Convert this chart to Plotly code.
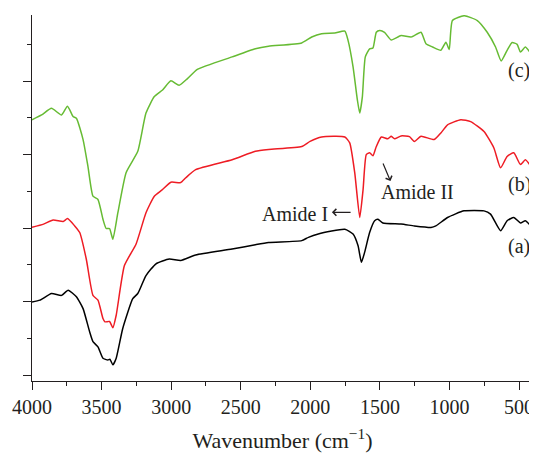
import plotly.graph_objects as go

# (a) black
wn_a = [4000, 3943, 3860, 3788, 3740, 3681, 3633, 3586, 3562, 3526, 3490, 3455, 3440, 3419, 3395,
        3348, 3276, 3240, 3181, 3109, 3014, 2931, 2824, 2562, 2395, 2300, 2062, 2014, 1943, 1752,
        1693, 1657, 1633, 1610, 1574, 1538, 1514, 1479, 1348, 1252, 1133, 1098, 1014, 895, 752,
        705, 633, 586, 538, 490, 455, 407]
y_a = [1.99, 2.04, 2.22, 2.17, 2.31, 2.13, 1.81, 1.18, 0.91, 0.77, 0.46, 0.41, 0.43, 0.28, 0.46,
       1.27, 2.08, 2.22, 2.71, 3.03, 3.16, 3.12, 3.27, 3.43, 3.55, 3.61, 3.66, 3.75, 3.84, 3.97,
       3.84, 3.52, 3.07, 3.34, 3.88, 4.20, 4.24, 4.14, 4.11, 4.06, 4.02, 4.06, 4.29, 4.47, 4.47,
       4.38, 3.93, 4.20, 4.29, 4.14, 4.20, 4.02]

# (b) red
wn_b = [4000, 3917, 3848, 3776, 3745, 3693, 3657, 3610, 3562, 3526, 3490, 3476, 3443, 3419, 3395,
        3336, 3252, 3181, 3121, 3062, 3002, 2931, 2895, 2824, 2562, 2395, 2300, 2062, 2002, 1919,
        1752, 1717, 1681, 1645, 1621, 1598, 1574, 1550, 1526, 1490, 1443, 1419, 1395, 1348, 1288,
        1252, 1205, 1110, 1062, 1014, 919, 848, 752, 681, 633, 586, 538, 490, 455, 407]
y_b = [4.02, 4.11, 4.22, 4.18, 4.26, 4.06, 3.88, 3.16, 2.17, 2.04, 1.54, 1.45, 1.46, 1.29, 1.63,
       2.98, 3.57, 4.42, 4.87, 5.05, 5.25, 5.24, 5.37, 5.59, 5.86, 6.09, 6.14, 6.22, 6.36, 6.48,
       6.48, 6.32, 5.51, 4.29, 5.05, 6.00, 6.05, 5.97, 6.22, 6.48, 6.43, 6.50, 6.43, 6.51, 6.49,
       6.36, 6.50, 6.41, 6.59, 6.81, 6.95, 6.90, 6.63, 6.18, 5.64, 5.95, 6.05, 5.73, 5.86, 5.64]

# (c) green
wn_c = [4000, 3931, 3860, 3788, 3745, 3705, 3681, 3633, 3598, 3562, 3526, 3490, 3467, 3443, 3419,
        3383, 3324, 3240, 3181, 3121, 3062, 3002, 2943, 2883, 2812, 2562, 2395, 2300, 2062, 1990,
        1919, 1824, 1752, 1729, 1693, 1662, 1645, 1626, 1605, 1574, 1550, 1526, 1502, 1467, 1419,
        1348, 1276, 1205, 1169, 1121, 1062, 1026, 1002, 979, 895, 800, 729, 669, 629, 586, 550,
        514, 490, 455, 407]
y_c = [6.95, 7.08, 7.26, 7.08, 7.32, 7.04, 6.99, 6.41, 5.68, 4.87, 4.78, 4.24, 3.99, 3.99, 3.70,
       4.42, 5.51, 6.09, 7.13, 7.58, 7.76, 8.01, 7.89, 8.07, 8.32, 8.66, 8.88, 8.95, 9.04, 9.20,
       9.29, 9.31, 9.36, 9.11, 8.39, 7.49, 7.13, 7.58, 8.66, 8.88, 8.90, 9.33, 9.38, 9.33, 9.12,
       9.24, 9.20, 9.33, 9.02, 8.93, 8.84, 9.06, 8.86, 9.65, 9.78, 9.65, 9.33, 8.93, 8.55, 8.84, 9.05,
       9.00, 8.79, 8.93, 8.70]

series_names = ["(a)", "(b)", "(c)"]
series_colors = ["#000000", "#ee1c24", "#66bb33"]

font_serif = "Liberation Serif"
txt_col = "#231f20"

fig = go.Figure()
for wn, yy, name, col in zip([wn_a, wn_b, wn_c], [y_a, y_b, y_c], series_names, series_colors):
    fig.add_trace(go.Scatter(x=wn, y=yy, mode="lines", name=name,
                             line=dict(color=col, width=1.5, shape="spline", smoothing=0.5)))

lab_font = dict(size=20, color=txt_col, family=font_serif)
fig.add_annotation(x=500, y=3.5, text="(a)", showarrow=False, xanchor="center", font=lab_font)
fig.add_annotation(x=500, y=5.2, text="(b)", showarrow=False, xanchor="center", font=lab_font)
fig.add_annotation(x=500, y=8.3, text="(c)", showarrow=False, xanchor="center", font=lab_font)

# Amide I label and its arrow
fig.add_annotation(x=1862, y=4.38, text="Amide I", showarrow=False, xanchor="right",
                   font=lab_font)
fig.add_annotation(x=1845, y=4.43, ax=1700, ay=4.43, axref="x", ayref="y", text="",
                   showarrow=True, arrowhead=4, arrowsize=1.1, arrowwidth=1.2,
                   arrowcolor=txt_col)
# Amide II label and its arrow
fig.add_annotation(x=1504, y=4.97, text="Amide II", showarrow=False, xanchor="left",
                   font=lab_font)
fig.add_annotation(x=1424, y=5.28, ax=1482, ay=5.8, axref="x", ayref="y", text="",
                   showarrow=True, arrowhead=4, arrowsize=1.1, arrowwidth=1.2,
                   arrowcolor=txt_col)

fig.update_layout(
    width=529, height=445,
    margin=dict(l=24, r=3, t=7, b=70),
    paper_bgcolor="white", plot_bgcolor="white",
    showlegend=False,
    font=dict(family=font_serif, color=txt_col),
)
fig.update_xaxes(
    range=[4000, 400], autorange=False,
    tickmode="linear", tick0=500, dtick=500,
    ticks="outside", ticklen=8, tickwidth=1, tickcolor=txt_col,
    minor=dict(dtick=250, tick0=250, ticks="outside", ticklen=4, tickcolor=txt_col),
    showline=True, linecolor=txt_col, linewidth=1.3,
    showgrid=False, zeroline=False,
    tickfont=dict(size=20, family=font_serif, color=txt_col),
    title=dict(text="Wavenumber (cm<sup>\u22121</sup>)", standoff=16,
               font=dict(size=22, family=font_serif, color=txt_col)),
)
fig.update_yaxes(
    range=[-0.16, 9.8], autorange=False,
    tickmode="linear", tick0=0, dtick=2,
    ticks="outside", ticklen=8, tickwidth=1, tickcolor=txt_col,
    minor=dict(dtick=1, tick0=0, ticks="outside", ticklen=4, tickcolor=txt_col),
    showticklabels=False,
    showline=True, linecolor=txt_col, linewidth=1.3,
    showgrid=False, zeroline=False,
)

fig.write_html("out.html")
